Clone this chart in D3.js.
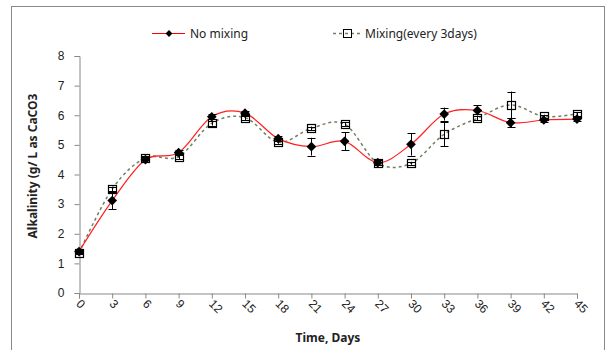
<!DOCTYPE html>
<html>
<head>
<meta charset="utf-8">
<script src="https://cdn.jsdelivr.net/npm/d3@7"></script>
<style>
  html, body { margin: 0; padding: 0; background: #fff; }
  svg { display: block; font-family: "Noto Sans", "DejaVu Sans", sans-serif; }
</style>
</head>
<body>
<svg id="chart" width="608" height="350"></svg>
<script>
// Sampling days
const days = [0, 3, 6, 9, 12, 15, 18, 21, 24, 27, 30, 33, 36, 39, 42, 45];

// Alkalinity (g/L as CaCO3), no mixing
const noMixing = [1.40, 3.12, 4.50, 4.74, 5.95, 6.07, 5.21, 4.94, 5.12, 4.40, 5.02, 6.04, 6.16, 5.75, 5.84, 5.87];
const noMixingErr = [0.05, 0.30, 0.08, 0.08, 0.08, 0.08, 0.08, 0.30, 0.30, 0.08, 0.38, 0.22, 0.17, 0.15, 0.08, 0.08];

// Alkalinity (g/L as CaCO3), mixing every 3 days
const mixing = [1.35, 3.51, 4.56, 4.60, 5.73, 5.92, 5.09, 5.56, 5.70, 4.38, 4.38, 5.36, 5.90, 6.35, 5.96, 6.05];
const mixingErr = [0.05, 0.08, 0.05, 0.08, 0.08, 0.08, 0.05, 0.06, 0.06, 0.05, 0.05, 0.40, 0.06, 0.45, 0.06, 0.06];

const yTicks = [0, 1, 2, 3, 4, 5, 6, 7, 8];
const seriesNames = ["No mixing", "Mixing(every 3days)"];

const svg = d3.select("#chart");
const plotLeft = 79, plotRight = 577, plotTop = 56, plotBottom = 293;

const x = d3.scaleLinear().domain([0, 45]).range([plotLeft, plotRight]);
const y = d3.scaleLinear().domain([0, 8]).range([plotBottom, plotTop]);

const axisColor = "#888888";

// outer frame
svg.append("rect")
  .attr("x", 11.5).attr("y", 6.5).attr("width", 593).attr("height", 360)
  .attr("fill", "none").attr("stroke", axisColor).attr("stroke-width", 1);

// y axis
const yAxis = svg.append("g")
  .attr("transform", `translate(${plotLeft + 0.5},0)`)
  .call(d3.axisLeft(y).tickValues(yTicks).tickSize(5).tickPadding(10).tickFormat(d3.format("d")));
yAxis.select(".domain").attr("stroke", axisColor);
yAxis.selectAll(".tick line").attr("stroke", axisColor);
yAxis.selectAll("text").attr("font-size", 12).attr("fill", "#222");

// x axis
const xAxis = svg.append("g")
  .attr("transform", `translate(0,${plotBottom + 0.5})`)
  .call(d3.axisBottom(x).tickValues(days).tickSize(5).tickFormat(d3.format("d")));
xAxis.select(".domain").attr("stroke", axisColor);
xAxis.selectAll(".tick line").attr("stroke", axisColor);
xAxis.selectAll("text")
  .attr("font-size", 12).attr("fill", "#222")
  .attr("text-anchor", "start")
  .attr("dy", null).attr("y", 0)
  .attr("transform", "translate(-4,11) rotate(45)");

// axis titles
svg.append("text")
  .attr("x", 328).attr("y", 342)
  .attr("text-anchor", "middle").attr("font-size", 12).attr("font-weight", "bold")
  .attr("fill", "#222").text("Time, Days");

svg.append("text")
  .attr("transform", "translate(37,166) rotate(-90)")
  .attr("text-anchor", "middle").attr("font-size", 12).attr("font-weight", "bold")
  .attr("fill", "#222").text("Alkalinity (g/ L as CaCO3");

// smooth lines
const line = d3.line()
  .x((d, i) => x(days[i]))
  .y(d => y(d))
  .curve(d3.curveCardinal.tension(0));

svg.append("path").datum(mixing)
  .attr("d", line).attr("fill", "none")
  .attr("stroke", "#6f8063").attr("stroke-width", 1.5)
  .attr("stroke-dasharray", "3,3");

svg.append("path").datum(noMixing)
  .attr("d", line).attr("fill", "none")
  .attr("stroke", "#ff2020").attr("stroke-width", 1.2);

// error bars
function errorBars(vals, errs) {
  const g = svg.append("g").attr("stroke", "#000").attr("stroke-width", 1);
  vals.forEach((v, i) => {
    const cx = Math.round(x(days[i])) + 0.5;
    const y1 = y(v + errs[i]), y2 = y(v - errs[i]);
    g.append("line").attr("x1", cx).attr("x2", cx).attr("y1", y1).attr("y2", y2);
    g.append("line").attr("x1", cx - 4).attr("x2", cx + 4).attr("y1", Math.round(y1) + 0.5).attr("y2", Math.round(y1) + 0.5);
    g.append("line").attr("x1", cx - 4).attr("x2", cx + 4).attr("y1", Math.round(y2) + 0.5).attr("y2", Math.round(y2) + 0.5);
  });
}
errorBars(mixing, mixingErr);
errorBars(noMixing, noMixingErr);

const diamond = d3.symbol().type(d3.symbolDiamond2).size(60);

// mixing markers (open squares)
svg.append("g").selectAll("rect").data(mixing).join("rect")
  .attr("x", (d, i) => Math.round(x(days[i])) - 3.5)
  .attr("y", d => Math.round(y(d)) - 3.5)
  .attr("width", 8).attr("height", 8)
  .attr("fill", "none").attr("stroke", "#000").attr("stroke-width", 1.2);

// no-mixing markers (filled diamonds)
svg.append("g").selectAll("path").data(noMixing).join("path")
  .attr("d", diamond)
  .attr("transform", (d, i) => `translate(${x(days[i])},${y(d)})`)
  .attr("fill", "#000");

// legend
const lg = svg.append("g").attr("font-size", 12).attr("fill", "#222");
lg.append("line").attr("x1", 152).attr("x2", 185).attr("y1", 33.5).attr("y2", 33.5)
  .attr("stroke", "#ff0000").attr("stroke-width", 1.2);
lg.append("path").attr("d", d3.symbol().type(d3.symbolDiamond2).size(30))
  .attr("transform", "translate(169,33.5)").attr("fill", "#000");
lg.append("text").attr("x", 190).attr("y", 37.5).text(seriesNames[0]);

lg.append("line").attr("x1", 333).attr("x2", 360).attr("y1", 33.5).attr("y2", 33.5)
  .attr("stroke", "#6f8063").attr("stroke-width", 1.5).attr("stroke-dasharray", "3,3");
lg.append("rect").attr("x", 343.5).attr("y", 29.5).attr("width", 8).attr("height", 8)
  .attr("fill", "none").attr("stroke", "#000");
lg.append("text").attr("x", 365).attr("y", 37.5).text(seriesNames[1]);
</script>
</body>
</html>
